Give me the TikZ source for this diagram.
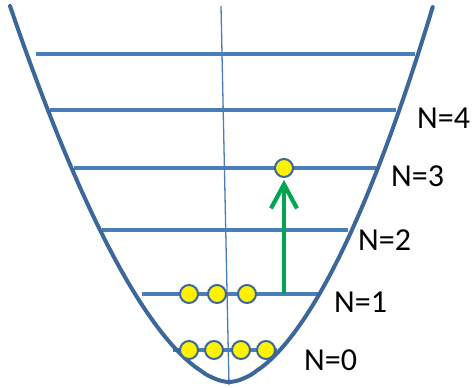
\documentclass[tikz,border=0pt]{standalone}
\usepackage{fontspec}
\setmainfont{Carlito}
\usetikzlibrary{arrows.meta}
\definecolor{curve}{HTML}{3C679A}
\definecolor{lvl}{HTML}{4A7EBB}
\definecolor{grn}{HTML}{00A550}
\tikzset{
  level/.style={draw=lvl, line width=3.6},
  electron/.style={circle, fill=yellow, draw=curve, line width=2, minimum size=18, inner sep=0},
  nlabel/.style={inner sep=0, font=\fontsize{32}{32}\selectfont, anchor=west},
}
\begin{document}
\begin{tikzpicture}[x=1pt,y=-1pt]
\useasboundingbox (0,0) rectangle (472,388);
% axis
\draw[lvl, line width=1.3] (221,6) -- (229,385);
% levels
\draw[level] (36,54) -- (415,54);
\draw[level] (50,110) -- (396,110);
\draw[level] (74,168) -- (376,168);
\draw[level] (102,230) -- (348,230);
\draw[level] (142,294) -- (318,294);
\draw[level] (173,350) -- (277,350);
% potential
\draw[curve, line width=4, line cap=round] plot[domain=-1:1, samples=100, smooth]
  ({229 - 7.5*pow(abs(\x),1.748) + 211.5*\x}, {382 - 376*pow(abs(\x),1.748)});
% electrons
\node[electron] (e30) at (284,168) {};
\node[electron] (e10) at (189,294) {};
\node[electron] (e11) at (217,294) {};
\node[electron] (e12) at (247,294) {};
\node[electron] (e00) at (189,350) {};
\node[electron] (e01) at (214,350) {};
\node[electron] (e02) at (241,350) {};
\node[electron] (e03) at (266,350) {};
% excitation arrow
\coordinate (a0) at (284,294);
\draw[grn, line width=4.2, -{Straight Barb[length=24,width=26,line width=4.2]}] (a0) -- ([yshift=-2]e30.south);
% labels
\node[nlabel] (n4) at (417,118) {N=4};
\node[nlabel] (n3) at (391,176) {N=3};
\node[nlabel] (n2) at (358,240) {N=2};
\node[nlabel] (n1) at (334,302) {N=1};
\node[nlabel] (n0) at (304,360) {N=0};
\end{tikzpicture}
\end{document}
